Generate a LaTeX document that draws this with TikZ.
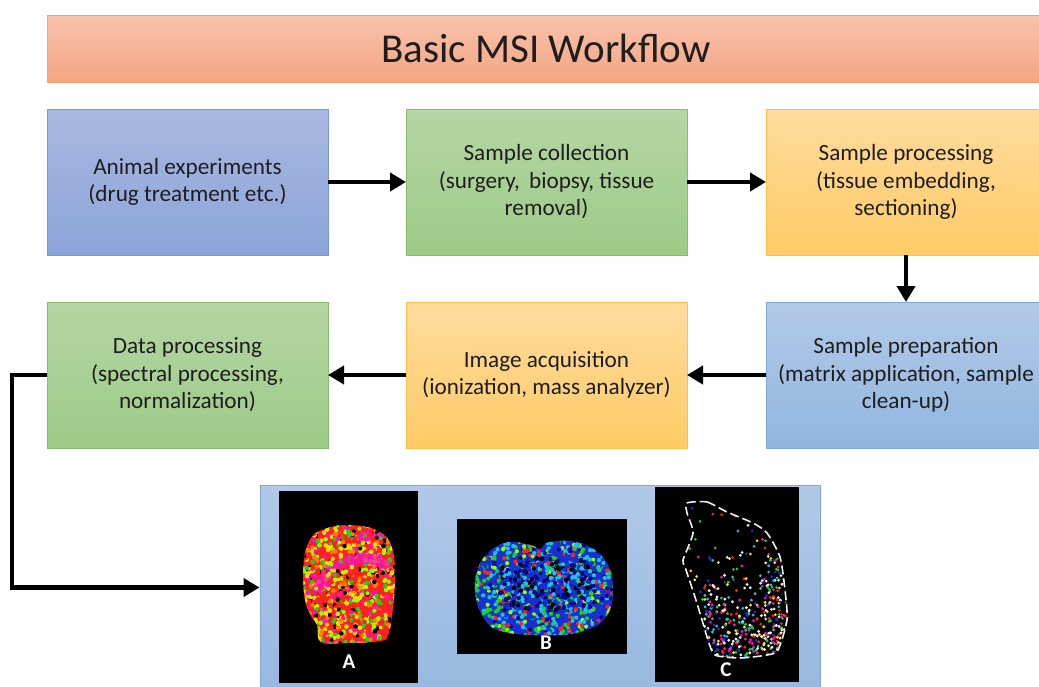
\documentclass[tikz,border=0pt]{standalone}
\usepackage{fontspec}
\setmainfont{Carlito}
\usetikzlibrary{arrows.meta}
\definecolor{ttop}{HTML}{F9C3AC}\definecolor{tbot}{HTML}{F4A583}\definecolor{tbrd}{HTML}{F5A06A}
\definecolor{btop}{HTML}{A9B9E2}\definecolor{bbot}{HTML}{8BA4D9}\definecolor{bbrd}{HTML}{7A96D3}
\definecolor{gtop}{HTML}{B5D6A5}\definecolor{gbot}{HTML}{9CCB86}\definecolor{gbrd}{HTML}{8ABB6E}
\definecolor{otop}{HTML}{FFDB9E}\definecolor{obot}{HTML}{FFCB66}\definecolor{obrd}{HTML}{FFC04A}
\definecolor{ltop}{HTML}{B3CAE7}\definecolor{lbot}{HTML}{91B5E0}\definecolor{lbrd}{HTML}{7FA7D8}
\definecolor{ptop}{HTML}{B1C9E8}\definecolor{pbot}{HTML}{97B8E0}
\definecolor{txt}{HTML}{1E1E1E}
\definecolor{cred}{HTML}{FF2020}\definecolor{cyel}{HTML}{FFE000}\definecolor{clime}{HTML}{90FF00}
\definecolor{cgrn}{HTML}{20D020}\definecolor{cmag}{HTML}{FF10C0}\definecolor{corg}{HTML}{FF8000}
\definecolor{cblu}{HTML}{1830D0}\definecolor{cnav}{HTML}{0A0A80}\definecolor{ccya}{HTML}{20C0E0}
\definecolor{cwht}{HTML}{F0F0F0}
\pgfmathdeclarerandomlist{colA}{{cyel}{cyel}{clime}{cgrn}{cred}{cred}{cred}{black}{corg}{cmag}}
\pgfmathdeclarerandomlist{colB}{{cgrn}{ccya}{clime}{cblu}{cblu}{cnav}{cred}{ccya}{cgrn}{cblu}}
\pgfmathdeclarerandomlist{colBc}{{cnav}{cblu}{black}{cnav}{ccya}{cblu}}
\pgfmathdeclarerandomlist{colC}{{cwht}{cwht}{cmag}{cgrn}{cblu}{cred}{cyel}{ccya}}
\begin{document}
\begin{tikzpicture}[x=1pt,y=-1pt,
  box/.style={draw,line width=1pt,minimum width=281,minimum height=146,inner sep=0pt,outer sep=0pt,
    align=center,text=txt,font=\fontsize{23.2}{27.5}\selectfont},
  bluebox/.style={box,top color=btop,bottom color=bbot,draw=bbrd},
  greenbox/.style={box,top color=gtop,bottom color=gbot,draw=gbrd},
  orangebox/.style={box,top color=otop,bottom color=obot,draw=obrd},
  lightbox/.style={box,top color=ltop,bottom color=lbot,draw=lbrd},
  arr/.style={line width=4.5pt,-{Triangle[length=16pt,width=18pt]}},
  imglabel/.style={text=white,font=\fontsize{21}{21}\selectfont\bfseries,inner sep=0pt}]
\useasboundingbox (0,0) rectangle (1039,686);
\clip (0,0) rectangle (1039,686);
\fill[white] (0,0) rectangle (1039,686);

\node[draw=tbrd,line width=1pt,top color=ttop,bottom color=tbot,minimum width=998,minimum height=67,
  inner sep=0pt,text=txt,font=\fontsize{41}{41}\selectfont] (title) at (546,48.5) {Basic MSI Workflow};

\node[bluebox] (b1) at (187.5,182) {Animal experiments\\(drug treatment etc.)};
\node[greenbox] (b2) at (546.5,182) {Sample collection\\(surgery,\, biopsy, tissue\\removal)};
\node[orangebox,minimum width=280] (b3) at (906,182) {Sample processing\\(tissue embedding,\\sectioning)};
\node[greenbox] (b4) at (187.5,375) {Data processing\\(spectral processing,\\normalization)};
\node[orangebox] (b5) at (546.5,375) {Image acquisition\\(ionization, mass analyzer)};
\node[lightbox,minimum width=280] (b6) at (906,375) {Sample preparation\\(matrix application, sample\\clean-up)};

\node[draw=lbrd,line width=1pt,top color=ptop,bottom color=pbot,minimum width=560,minimum height=205,inner sep=0pt] (panel) at (540,587.5) {};

\draw[arr] (b1.east) -- (b2.west);
\draw[arr] (b2.east) -- (b3.west);
\draw[arr] (b3.south) -- (b6.north);
\draw[arr] (b6.west) -- (b5.east);
\draw[arr] (b5.west) -- (b4.east);
\coordinate (elb) at (12,375);
\draw[arr] (b4.west) -- (elb) |- (panel.west);

% image A
\node[fill=black,minimum width=139,minimum height=192,inner sep=0pt] (imgA) at (348.5,587) {};
\pgfmathsetseed{7}
\begin{scope}
\clip plot[smooth cycle,tension=0.7] coordinates {(322,530) (348,525) (378,531) (392,548) (395,580) (392,615) (388,635) (380,641) (345,643) (321,642) (317,625) (309,612) (304,592) (304,560) (310,540)};
\fill[cred] (300,520) rectangle (400,650);
\foreach \i in {1,...,900}{
  \pgfmathsetmacro\px{302+95*rnd}
  \pgfmathsetmacro\py{524+122*rnd}
  \pgfmathrandomitem\dc{colA}
  \fill[\dc] (\px,\py) circle (2.3);
}
\draw[cmag,line width=10pt,opacity=0.75] (316,592) .. controls (328,562) and (360,550) .. (388,566);
\foreach \i in {1,...,150}{
  \pgfmathsetmacro\px{302+95*rnd}
  \pgfmathsetmacro\py{524+122*rnd}
  \pgfmathrandomitem\dc{colA}
  \fill[\dc] (\px,\py) circle (2);
}
\end{scope}
\node[imglabel] (labA) at (349,662) {A};

% image B
\node[fill=black,minimum width=170,minimum height=135,inner sep=0pt] (imgB) at (541.5,586.5) {};
\begin{scope}
\clip plot[smooth cycle,tension=0.7] coordinates {(475,590) (482,560) (505,543) (530,545) (540,549) (550,542) (580,543) (605,560) (613,590) (605,618) (580,632) (545,635) (505,632) (485,620)};
\fill[cblu] (470,535) rectangle (620,640);
\foreach \i in {1,...,1000}{
  \pgfmathsetmacro\px{472+144*rnd}
  \pgfmathsetmacro\py{538+100*rnd}
  \pgfmathrandomitem\dc{colB}
  \fill[\dc] (\px,\py) circle (2.1);
}
\foreach \i in {1,...,300}{
  \pgfmathsetmacro\px{500+95*rnd}
  \pgfmathsetmacro\py{558+52*rnd}
  \pgfmathrandomitem\dc{colBc}
  \fill[\dc] (\px,\py) circle (2.2);
}
\end{scope}
\node[imglabel] (labB) at (546,643) {B};

% image C
\node[fill=black,minimum width=144,minimum height=195,inner sep=0pt] (imgC) at (727,584.5) {};
\begin{scope}
\clip plot[smooth cycle,tension=0.4] coordinates {(687,503) (707,502) (727,512) (753,523) (767,533) (780,557) (785,590) (787,620) (778,650) (767,655) (740,658) (715,655) (708,640) (702,620) (695,597) (685,567) (683,560) (693,533) (687,513)};
\foreach \i in {1,...,90}{
  \pgfmathsetmacro\px{683+104*rnd}
  \pgfmathsetmacro\py{502+156*rnd}
  \pgfmathrandomitem\dc{colC}
  \fill[\dc] (\px,\py) circle (1.5);
}
\foreach \i in {1,...,320}{
  \pgfmathsetmacro\px{700+90*rnd}
  \pgfmathsetmacro\py{565+95*sqrt(rnd)}
  \pgfmathrandomitem\dc{colC}
  \fill[\dc] (\px,\py) circle (1.6);
}
\foreach \i in {1,...,80}{
  \pgfmathsetmacro\px{765+25*rnd}
  \pgfmathsetmacro\py{550+70*rnd}
  \pgfmathrandomitem\dc{colC}
  \fill[\dc] (\px,\py) circle (1.5);
}
\end{scope}
\draw[cwht,line width=1.6pt,dash pattern=on 9pt off 4pt,line join=round] plot[smooth cycle,tension=0.4] coordinates {(687,503) (707,502) (727,512) (753,523) (767,533) (780,557) (785,590) (787,620) (778,650) (767,655) (740,658) (715,655) (708,640) (702,620) (695,597) (685,567) (683,560) (693,533) (687,513)};
\node[imglabel] (labC) at (726,670) {C};
\end{tikzpicture}
\end{document}
